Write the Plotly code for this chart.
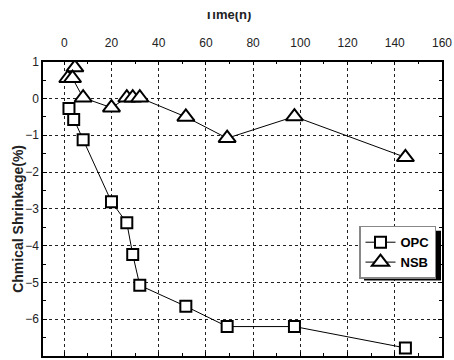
import plotly.graph_objects as go

# ---- data ----
opc_time = [2, 4, 8, 20, 26.5, 29, 32, 51.5, 69, 97.5, 144.5]
opc_shrink = [-0.27, -0.57, -1.12, -2.81, -3.38, -4.24, -5.08, -5.65, -6.2, -6.2, -6.78]

nsb_time = [4.5, 1.5, 3.5, 8, 20, 26.5, 29, 32, 51.5, 69, 97.5, 144.5]
nsb_shrink = [0.84, 0.55, 0.55, 0.02, -0.25, 0.02, 0.02, 0.02, -0.5, -1.08, -0.49, -1.6]

x_ticks = [0, 20, 40, 60, 80, 100, 120, 140, 160]
y_ticks = [1, 0, -1, -2, -3, -4, -5, -6, -7]

W, H = 454, 360
ML, MR, MT, MB = 43, 12, 12, 2
PW, PH = W - ML - MR, H - MT - MB


def px(x):  # page pixel -> paper x
    return (x - ML) / PW


def py(y):  # page pixel -> paper y
    return (H - MB - y) / PH


FONT = "Arial, Liberation Sans, sans-serif"

fig = go.Figure()
fig.add_trace(go.Scatter(
    x=opc_time, y=opc_shrink, name="OPC", mode="lines+markers",
    line=dict(color="black", width=1),
    marker=dict(symbol="square", size=11, color="white",
                line=dict(color="black", width=2)),
))
fig.add_trace(go.Scatter(
    x=nsb_time, y=nsb_shrink, name="NSB", mode="lines+markers",
    line=dict(color="black", width=1),
    marker=dict(symbol="triangle-up", size=15, color="white",
                line=dict(color="black", width=2)),
))
# top title, clipped at its top edge as in the reference
T_TOP, T_BOT = 12, 40  # page pixels of the title strip
fig.add_trace(go.Scatter(
    x=[px(228)], y=[(T_BOT - 16) / (T_BOT - T_TOP)], text=["Time(h)"], mode="text",
    textposition="middle center",
    textfont=dict(family=FONT, size=13, color="#222", weight="bold"),
    xaxis="x2", yaxis="y2", showlegend=False, hoverinfo="skip",
))

axis_common = dict(
    showline=True, linecolor="black", linewidth=1.5, mirror="allticks",
    ticks="inside", ticklen=4, tickcolor="black",
    showgrid=True, gridcolor="#222", griddash="dot", gridwidth=1,
    zeroline=False, tickfont=dict(family=FONT, size=12, color="#222"),
)

LEG_L, LEG_T = 359, 227
LEG_W, LEG_H = 77, 50

fig.update_layout(
    width=W, height=H,
    margin=dict(l=ML, r=MR, t=MT, b=MB, pad=0),
    paper_bgcolor="white", plot_bgcolor="white",
    xaxis=dict(range=[-9, 160], side="top", tickvals=x_ticks,
               ticklabelstandoff=8,
               minor=dict(dtick=10, ticks="inside", ticklen=3, tickcolor="black", showgrid=False),
               **axis_common),
    yaxis=dict(range=[-7, 1], domain=[0, py(62)], tickvals=y_ticks,
               ticklabelstandoff=0,
               minor=dict(dtick=0.5, ticks="inside", ticklen=3, tickcolor="black", showgrid=False),
               **axis_common),
    xaxis2=dict(range=[0, 1], domain=[0, 1], anchor="y2", visible=False, fixedrange=True),
    yaxis2=dict(range=[0, 1], domain=[py(T_BOT), py(T_TOP)], anchor="x2", visible=False, fixedrange=True),
    showlegend=True,
    legend=dict(x=px(LEG_L), y=py(LEG_T), xanchor="left", yanchor="top",
                bgcolor="white", bordercolor="#888", borderwidth=1.5,
                font=dict(family=FONT, size=13, color="black", weight="bold"),
                itemwidth=30, tracegroupgap=0),
    shapes=[dict(type="rect", xref="paper", yref="paper",
                 x0=px(LEG_L + 5), x1=px(LEG_L + LEG_W + 5),
                 y0=py(LEG_T + LEG_H + 5), y1=py(LEG_T + 5),
                 fillcolor="black", line=dict(width=0), layer="above")],
    annotations=[dict(text="Chmical Shrinkage(%)", xref="paper", yref="paper",
                      x=px(18), y=py(220), xanchor="center", yanchor="middle",
                      showarrow=False, textangle=-90,
                      font=dict(family=FONT, size=14, color="#222", weight="bold"))],
)

fig.write_html(
    "out.html",
    config={"displayModeBar": False},
    post_script="document.body.style.margin='0';document.body.style.overflow='hidden';",
)
